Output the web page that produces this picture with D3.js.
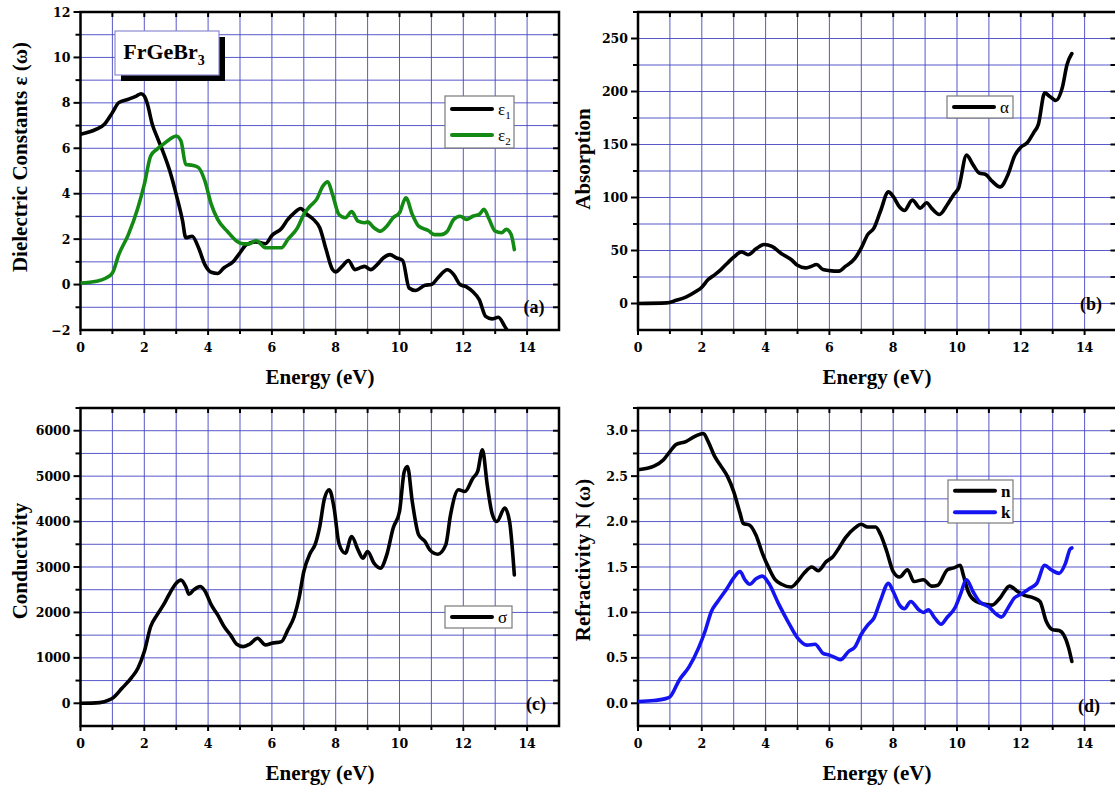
<!DOCTYPE html>
<html>
<head>
<meta charset="utf-8">
<script src="https://cdn.jsdelivr.net/npm/d3@7"></script>
<style>
  html, body { margin: 0; padding: 0; background: #fff; }
  svg { display: block; }
</style>
</head>
<body>
<svg id="chart" width="1115" height="791"></svg>
<script>
// ---- Optical spectra of FrGeBr3 versus photon energy (eV) ----

// (a) real and imaginary parts of the dielectric function
const eps1E = [0,0.5,0.75,1.0,1.2,1.5,1.75,1.9,2.0,2.1,2.25,2.4,2.6,2.8,3.0,3.2,3.3,3.5,3.7,3.9,4.1,4.3,4.5,4.8,5.0,5.2,5.5,5.8,6.0,6.3,6.5,6.7,6.9,7.1,7.3,7.5,7.7,7.9,8.0,8.2,8.4,8.6,8.8,8.9,9.1,9.3,9.5,9.7,9.9,10.1,10.3,10.5,10.8,11.0,11.2,11.5,11.7,11.9,12.1,12.3,12.5,12.7,12.9,13.1,13.3,13.4];
const eps1V = [6.62,6.84,7.06,7.57,8.01,8.16,8.3,8.4,8.3,7.94,7.06,6.5,5.8,5.0,3.97,2.8,2.06,2.13,1.62,0.88,0.54,0.49,0.74,1.03,1.4,1.76,1.88,1.8,2.16,2.47,2.87,3.16,3.35,3.09,2.87,2.5,1.54,0.66,0.56,0.8,1.06,0.66,0.76,0.8,0.66,0.88,1.18,1.32,1.18,1.06,-0.15,-0.26,-0.03,0,0.29,0.65,0.44,0,-0.1,-0.32,-0.66,-1.4,-1.51,-1.44,-1.84,-2.06];
const eps2E = [0,0.5,0.8,1.0,1.2,1.5,1.8,2.0,2.2,2.4,2.6,2.8,3.0,3.15,3.3,3.5,3.7,3.9,4.1,4.3,4.6,4.9,5.1,5.3,5.5,5.8,6.0,6.3,6.5,6.8,7.0,7.2,7.4,7.6,7.75,7.9,8.1,8.3,8.5,8.7,8.9,9.0,9.2,9.4,9.6,9.8,10.0,10.2,10.4,10.6,10.9,11.1,11.3,11.5,11.7,11.9,12.1,12.3,12.5,12.65,12.8,13.0,13.2,13.35,13.5,13.6];
const eps2V = [0.07,0.15,0.29,0.51,1.32,2.2,3.38,4.41,5.66,5.96,6.18,6.4,6.54,6.32,5.29,5.25,5.15,4.56,3.53,2.87,2.35,1.91,1.79,1.79,1.94,1.62,1.62,1.62,1.99,2.5,3.09,3.46,3.75,4.34,4.53,3.97,3.09,2.94,3.21,2.79,2.72,2.76,2.5,2.35,2.57,2.94,3.16,3.82,3.09,2.57,2.38,2.2,2.2,2.35,2.87,3.01,2.87,3.01,3.09,3.31,2.91,2.35,2.28,2.43,2.2,1.54];

// (b) absorption coefficient
const alphaE = [0,0.9,1.2,1.5,1.8,2.0,2.2,2.4,2.6,2.8,3.0,3.25,3.45,3.7,3.95,4.2,4.5,4.8,5.0,5.25,5.4,5.6,5.8,6.0,6.3,6.5,6.8,7.0,7.2,7.4,7.6,7.85,8.0,8.2,8.35,8.6,8.85,9.05,9.2,9.45,9.7,9.9,10.05,10.3,10.5,10.7,10.9,11.1,11.35,11.6,11.8,12.0,12.2,12.4,12.55,12.75,12.9,13.1,13.3,13.45,13.6];
const alphaV = [0,0.6,3,6,11,15.4,22.6,27,32,38,43.7,48.7,46,51.6,55.7,53.8,47,41.5,36,33.6,34.6,36.8,32,31,30.5,35,42.5,52.5,65,71.4,87,105.3,101,91,87.7,97.5,90,95,90,84,93.4,102.8,109,140,131,123,121.7,115.4,110,121.7,139,147.5,151.6,161,169,198.7,195.6,191.5,203.5,225.5,235.8];

// (c) optical conductivity
const sigmaE = [0,0.6,0.9,1.0,1.3,1.6,1.8,2.0,2.2,2.4,2.6,2.8,3.0,3.15,3.3,3.4,3.55,3.75,3.9,4.1,4.3,4.5,4.7,4.9,5.1,5.3,5.55,5.8,6.0,6.3,6.5,6.7,6.85,7.0,7.2,7.35,7.5,7.65,7.8,7.95,8.1,8.3,8.5,8.7,8.85,9.0,9.2,9.4,9.6,9.8,10.0,10.15,10.25,10.4,10.6,10.8,10.95,11.2,11.45,11.6,11.85,12.05,12.3,12.45,12.6,12.75,12.9,13.05,13.3,13.45,13.6];
const sigmaV = [0,15,73,110,330,565,770,1138,1690,1946,2166,2423,2643,2710,2570,2400,2496,2570,2474,2166,1946,1690,1505,1300,1248,1300,1432,1285,1322,1358,1615,1909,2313,2900,3304,3487,3891,4515,4699,4295,3524,3304,3671,3377,3194,3340,3084,2974,3267,3855,4222,5103,5213,4442,3708,3561,3377,3282,3487,4148,4699,4662,4956,5103,5580,4809,4185,4001,4295,4001,2826];

// (d) refractive index n and extinction coefficient k
const nE = [0,0.5,0.8,1.0,1.2,1.5,1.8,2.05,2.2,2.4,2.6,2.8,3.0,3.2,3.3,3.5,3.7,3.9,4.1,4.3,4.5,4.8,5.0,5.2,5.45,5.65,5.9,6.1,6.3,6.5,6.8,7.0,7.2,7.45,7.6,7.8,8.0,8.2,8.45,8.65,8.95,9.2,9.4,9.7,9.9,10.1,10.2,10.35,10.6,10.9,11.1,11.35,11.65,11.9,12.1,12.4,12.6,12.8,13.0,13.2,13.35,13.5,13.6];
const nV = [2.57,2.61,2.68,2.77,2.85,2.88,2.94,2.97,2.88,2.72,2.61,2.5,2.33,2.09,1.98,1.96,1.85,1.65,1.49,1.36,1.31,1.28,1.34,1.43,1.5,1.46,1.56,1.61,1.71,1.82,1.93,1.97,1.94,1.94,1.86,1.67,1.45,1.39,1.47,1.34,1.36,1.29,1.30,1.47,1.49,1.52,1.41,1.23,1.12,1.09,1.08,1.16,1.29,1.23,1.19,1.16,1.12,0.9,0.81,0.8,0.75,0.61,0.46];
const kE = [0,0.5,0.9,1.0,1.3,1.6,1.9,2.1,2.3,2.5,2.8,3.0,3.2,3.35,3.5,3.7,3.9,4.1,4.4,4.7,5.0,5.3,5.55,5.8,6.0,6.2,6.35,6.6,6.8,7.0,7.2,7.4,7.6,7.85,8.0,8.2,8.35,8.55,8.8,8.95,9.1,9.3,9.5,9.7,9.95,10.1,10.3,10.5,10.7,11.0,11.2,11.4,11.6,11.8,12.0,12.3,12.5,12.75,12.95,13.2,13.4,13.55,13.6];
const kV = [0.02,0.03,0.055,0.07,0.26,0.40,0.61,0.79,1.01,1.12,1.27,1.38,1.45,1.36,1.31,1.37,1.40,1.32,1.10,0.90,0.72,0.64,0.65,0.55,0.53,0.50,0.48,0.57,0.62,0.76,0.86,0.94,1.13,1.32,1.23,1.08,1.04,1.12,1.03,1.0,1.03,0.94,0.87,0.95,1.06,1.19,1.36,1.23,1.12,1.06,0.99,0.95,1.05,1.16,1.2,1.27,1.32,1.52,1.47,1.43,1.54,1.70,1.71];

// tick labels
const energyDomain = [0, 15];
const energyTicks = [0, 2, 4, 6, 8, 10, 12, 14];
const epsTicks = [-2, 0, 2, 4, 6, 8, 10, 12];
const alphaTicks = [0, 50, 100, 150, 200, 250];
const sigmaTicks = [0, 1000, 2000, 3000, 4000, 5000, 6000];
const nkTicks = [0, 0.5, 1.0, 1.5, 2.0, 2.5, 3.0];

const svg = d3.select("#chart");
const titleFont = "'Liberation Serif', 'Times New Roman', serif";
const tickFont = "'DejaVu Serif', serif";
const gridColor = "#4646c4";

const panels = [
  { tag: "(a)", box: [80.5, 12, 559, 330], y: [-2, 12], yTicks: epsTicks, yMinor: 1, fmt: d3.format("d"),
    ytitle: "Dielectric Constants ε (ω)", ytx: 20, yty: 157, xtitleX: 320, xtitleY: 384,
    series: [ { e: eps1E, v: eps1V, color: "#000000" }, { e: eps2E, v: eps2V, color: "#138a13" } ],
    legend: { x: 445, y: 96, w: 69, h: 52, items: [ { label: "ε", sub: "1", color: "#000000" }, { label: "ε", sub: "2", color: "#138a13" } ] },
    tagPos: [534, 313] },
  { tag: "(b)", box: [638, 12, 1116.5, 330], y: [-25, 275], yTicks: alphaTicks, yMinor: 25, fmt: d3.format("d"),
    ytitle: "Absorption", ytx: 583, yty: 159, xtitleX: 877, xtitleY: 384,
    series: [ { e: alphaE, v: alphaV, color: "#000000" } ],
    legend: { x: 947, y: 96, w: 66, h: 22, items: [ { label: "α", color: "#000000" } ] },
    tagPos: [1091, 310] },
  { tag: "(c)", box: [80.5, 408, 559, 726], y: [-500, 6500], yTicks: sigmaTicks, yMinor: 500, fmt: d3.format("d"),
    ytitle: "Conductivity", ytx: 20, yty: 561, xtitleX: 320, xtitleY: 780,
    series: [ { e: sigmaE, v: sigmaV, color: "#000000" } ],
    legend: { x: 445, y: 606, w: 67, h: 22, items: [ { label: "σ", color: "#000000" } ] },
    tagPos: [536, 710] },
  { tag: "(d)", box: [638, 408, 1116.5, 726], y: [-0.25, 3.25], yTicks: nkTicks, yMinor: 0.25, fmt: d3.format(".1f"),
    ytitle: "Refractivity N (ω)", ytx: 583, yty: 560, xtitleX: 877, xtitleY: 780,
    series: [ { e: nE, v: nV, color: "#000000" }, { e: kE, v: kV, color: "#1414f0" } ],
    legend: { x: 948, y: 480, w: 65, h: 43, items: [ { label: "n", color: "#000000", bold: true }, { label: "k", color: "#1414f0", bold: true } ] },
    tagPos: [1089, 712] }
];

function range(a, b, step) {
  const out = [];
  const n = Math.round((b - a) / step);
  for (let i = 0; i <= n; i++) out.push(+(a + i * step).toFixed(6));
  return out;
}

panels.forEach((p, idx) => {
  const [x0, y0, x1, y1] = p.box;
  const x = d3.scaleLinear().domain(energyDomain).range([x0, x1]);
  const y = d3.scaleLinear().domain(p.y).range([y1, y0]);
  const g = svg.append("g");

  const clipId = "clip" + idx;
  svg.append("clipPath").attr("id", clipId)
    .append("rect").attr("x", x0).attr("y", y0).attr("width", x1 - x0).attr("height", y1 - y0);

  // grid: every eV vertically, every minor step horizontally
  const xGrid = range(1, 14, 1);
  const yGrid = range(p.y[0], p.y[1], p.yMinor).filter(v => v > p.y[0] + 1e-9 && v < p.y[1] - 1e-9);
  g.append("g").selectAll("line").data(xGrid).join("line")
    .attr("x1", d => x(d)).attr("x2", d => x(d)).attr("y1", y0).attr("y2", y1)
    .attr("stroke", gridColor).attr("stroke-width", 1).attr("stroke-opacity", 0.9);
  g.append("g").selectAll("line").data(yGrid).join("line")
    .attr("x1", x0).attr("x2", x1).attr("y1", d => y(d)).attr("y2", d => y(d))
    .attr("stroke", gridColor).attr("stroke-width", 1).attr("stroke-opacity", 0.9);

  // tick marks
  const allY = range(p.y[0], p.y[1], p.yMinor).filter(v => v > p.y[0] + 1e-9);
  const isMajorY = v => p.yTicks.some(t => Math.abs(t - v) < 1e-6);
  const allX = range(0, 14, 1);
  const tk = g.append("g").attr("stroke", "#000").attr("stroke-width", 2);
  tk.selectAll(".ly").data(allY).join("line")
    .attr("x1", d => x0 - (isMajorY(d) ? 7 : 5)).attr("x2", x0).attr("y1", d => y(d)).attr("y2", d => y(d));
  tk.selectAll(".ry").data(allY).join("line")
    .attr("x1", x1).attr("x2", x1 - 6).attr("y1", d => y(d)).attr("y2", d => y(d));
  tk.selectAll(".bx").data(allX).join("line")
    .attr("x1", d => x(d)).attr("x2", d => x(d)).attr("y1", y1).attr("y2", d => y1 + (d % 2 === 0 ? 5 : 4));
  tk.selectAll(".tx").data(allX.filter(d => d > 0)).join("line")
    .attr("x1", d => x(d)).attr("x2", d => x(d)).attr("y1", y0).attr("y2", y0 + 5);

  // frame
  g.append("rect").attr("x", x0).attr("y", y0).attr("width", x1 - x0).attr("height", y1 - y0)
    .attr("fill", "none").attr("stroke", "#000").attr("stroke-width", 2.5);

  // tick labels
  g.append("g").selectAll("text").data(p.yTicks).join("text")
    .attr("x", x0 - 10).attr("y", d => y(d)).attr("dy", "0.36em")
    .attr("text-anchor", "end").attr("font-family", tickFont).attr("font-weight", "bold").attr("font-size", 12.5)
    .text(d => p.fmt(d));
  g.append("g").selectAll("text").data(energyTicks).join("text")
    .attr("x", d => x(d)).attr("y", y1 + 22)
    .attr("text-anchor", "middle").attr("font-family", tickFont).attr("font-weight", "bold").attr("font-size", 12.5)
    .text(d => d);

  // axis titles
  g.append("text").attr("x", p.xtitleX).attr("y", p.xtitleY)
    .attr("text-anchor", "middle").attr("font-family", titleFont).attr("font-weight", "bold").attr("font-size", 21)
    .text("Energy (eV)");
  g.append("text").attr("transform", `translate(${p.ytx},${p.yty}) rotate(-90)`)
    .attr("dy", "0.35em").attr("text-anchor", "middle")
    .attr("font-family", titleFont).attr("font-weight", "bold").attr("font-size", 21)
    .text(p.ytitle);

  // spectra
  const line = d3.line().x(d => x(d[0])).y(d => y(d[1])).curve(d3.curveMonotoneX);
  const lg = g.append("g").attr("clip-path", `url(#${clipId})`);
  p.series.forEach(s => {
    lg.append("path").datum(d3.zip(s.e, s.v))
      .attr("d", line).attr("fill", "none").attr("stroke", s.color)
      .attr("stroke-width", 3.6).attr("stroke-linejoin", "round").attr("stroke-linecap", "round");
  });

  // legend
  const L = p.legend;
  const lgd = g.append("g");
  lgd.append("rect").attr("x", L.x).attr("y", L.y).attr("width", L.w).attr("height", L.h)
    .attr("fill", "#fff").attr("stroke", "#7a7a7a").attr("stroke-width", 1.2);
  const rowH = L.h / L.items.length;
  L.items.forEach((it, i) => {
    const cy = L.y + rowH * (i + 0.5);
    lgd.append("line").attr("x1", L.x + 7).attr("x2", L.x + 47).attr("y1", cy).attr("y2", cy)
      .attr("stroke", it.color).attr("stroke-width", 4).attr("stroke-linecap", "round");
    const t = lgd.append("text").attr("x", L.x + 53).attr("y", cy).attr("dy", "0.35em")
      .attr("font-family", titleFont).attr("font-size", 17)
      .attr("font-weight", it.bold ? "bold" : "normal").text(it.label);
    if (it.sub) t.append("tspan").attr("dy", "0.35em").attr("font-size", 11).text(it.sub);
  });

  // panel tag
  g.append("text").attr("x", p.tagPos[0]).attr("y", p.tagPos[1])
    .attr("text-anchor", "middle").attr("font-family", titleFont).attr("font-weight", "bold").attr("font-size", 18)
    .text(p.tag);
});

// compound name box with drop shadow
const nb = svg.append("g");
nb.append("rect").attr("x", 121).attr("y", 37).attr("width", 104).attr("height", 44).attr("fill", "#000");
nb.append("rect").attr("x", 115).attr("y", 31).attr("width", 104).attr("height", 44)
  .attr("fill", "#fff").attr("stroke", "#8a8ad0").attr("stroke-width", 1.2);
const nt = nb.append("text").attr("x", 164).attr("y", 59).attr("text-anchor", "middle")
  .attr("font-family", titleFont).attr("font-weight", "bold").attr("font-size", 22).text("FrGeBr");
nt.append("tspan").attr("dy", 6).attr("font-size", 14).text("3");
</script>
</body>
</html>
